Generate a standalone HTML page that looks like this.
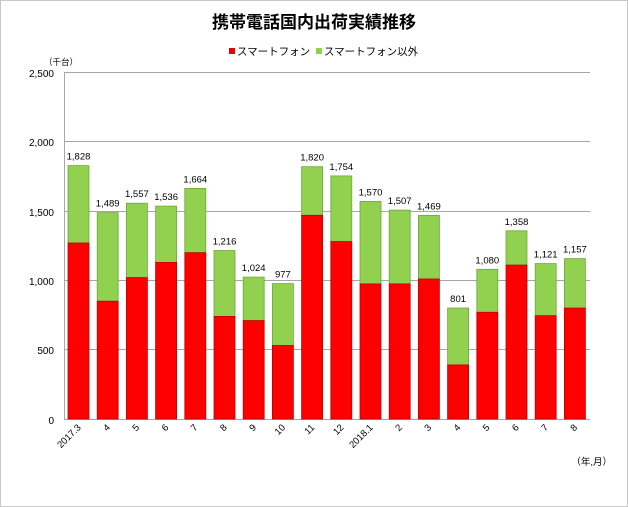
<!DOCTYPE html>
<html><head><meta charset="utf-8"><style>
html,body{margin:0;padding:0;background:#fff}
svg{display:block;font-family:"Liberation Sans","Noto Sans CJK JP",sans-serif}
</style></head><body>
<svg width="628" height="507" viewBox="0 0 628 507" xmlns="http://www.w3.org/2000/svg">
<rect x="0.5" y="0.5" width="627" height="506" fill="#fff" stroke="#c8c8c8"/>
<text x="314" y="28" text-anchor="middle" font-size="17" font-weight="bold" fill="#000">携帯電話国内出荷実績推移</text>
<rect x="229" y="48" width="6" height="6" fill="#e00"/>
<text x="237" y="55" font-size="10.5">スマートフォン</text>
<rect x="316" y="48" width="6" height="6" fill="#92d050"/>
<text x="324" y="55" font-size="10.5">スマートフォン以外</text>
<text x="44" y="65" font-size="8.5">（千台）</text>
<g stroke="#a6a6a6" stroke-width="1">
<line x1="64" y1="72.5" x2="590" y2="72.5"/>
<line x1="64" y1="141.5" x2="590" y2="141.5"/>
<line x1="64" y1="211.5" x2="590" y2="211.5"/>
<line x1="64" y1="280.5" x2="590" y2="280.5"/>
<line x1="64" y1="349.5" x2="590" y2="349.5"/>
<line x1="64" y1="419.5" x2="590" y2="419.5"/>
<line x1="64.5" y1="72" x2="64.5" y2="419"/>
</g>
<g font-size="10" text-anchor="end">
<text x="54" y="77">2,500</text>
<text x="54" y="146">2,000</text>
<text x="54" y="216">1,500</text>
<text x="54" y="285">1,000</text>
<text x="54" y="354">500</text>
<text x="54" y="424">0</text>
</g>
<g stroke-width="0.8">
<g fill="#92d050" stroke="#6fa83a">
<rect x="68" y="165.6" width="21" height="77.4"/>
<rect x="97.2" y="212.6" width="21" height="88.6"/>
<rect x="126.4" y="203.2" width="21" height="74.4"/>
<rect x="155.6" y="206.1" width="21" height="56.3"/>
<rect x="184.8" y="188.4" width="21" height="64.3"/>
<rect x="214" y="250.5" width="21" height="65.9"/>
<rect x="243.2" y="277.1" width="21" height="43.5"/>
<rect x="272.4" y="283.6" width="21" height="61.9"/>
<rect x="301.6" y="166.7" width="21" height="48.6"/>
<rect x="330.8" y="175.9" width="21" height="65.7"/>
<rect x="360" y="201.4" width="21" height="82.5"/>
<rect x="389.2" y="210.1" width="21" height="73.8"/>
<rect x="418.4" y="215.4" width="21" height="63.6"/>
<rect x="447.6" y="308.0" width="21" height="56.9"/>
<rect x="476.8" y="269.3" width="21" height="43.0"/>
<rect x="506" y="230.8" width="21" height="34.3"/>
<rect x="535.2" y="263.6" width="21" height="52.1"/>
<rect x="564.4" y="258.6" width="21" height="49.5"/>
</g>
<g fill="#ff0000" stroke="#c00000">
<rect x="68" y="243.0" width="21" height="176"/>
<rect x="97.2" y="301.2" width="21" height="117.8"/>
<rect x="126.4" y="277.6" width="21" height="141.4"/>
<rect x="155.6" y="262.4" width="21" height="156.6"/>
<rect x="184.8" y="252.7" width="21" height="166.3"/>
<rect x="214" y="316.4" width="21" height="102.6"/>
<rect x="243.2" y="320.6" width="21" height="98.4"/>
<rect x="272.4" y="345.5" width="21" height="73.5"/>
<rect x="301.6" y="215.3" width="21" height="203.7"/>
<rect x="330.8" y="241.6" width="21" height="177.4"/>
<rect x="360" y="283.9" width="21" height="135.1"/>
<rect x="389.2" y="283.9" width="21" height="135.1"/>
<rect x="418.4" y="279.0" width="21" height="140"/>
<rect x="447.6" y="364.9" width="21" height="54.1"/>
<rect x="476.8" y="312.3" width="21" height="106.7"/>
<rect x="506" y="265.1" width="21" height="153.9"/>
<rect x="535.2" y="315.7" width="21" height="103.3"/>
<rect x="564.4" y="308.1" width="21" height="110.9"/>
</g>
</g>
<g font-size="9.5" text-anchor="middle">
<text x="78.5" y="159.6">1,828</text>
<text x="107.7" y="206.6">1,489</text>
<text x="136.9" y="197.2">1,557</text>
<text x="166.1" y="200.1">1,536</text>
<text x="195.3" y="182.4">1,664</text>
<text x="224.5" y="244.5">1,216</text>
<text x="253.7" y="271.1">1,024</text>
<text x="282.9" y="277.6">977</text>
<text x="312.1" y="160.7">1,820</text>
<text x="341.3" y="169.9">1,754</text>
<text x="370.5" y="195.4">1,570</text>
<text x="399.7" y="204.1">1,507</text>
<text x="428.9" y="209.4">1,469</text>
<text x="458.1" y="302.0">801</text>
<text x="487.3" y="263.3">1,080</text>
<text x="516.5" y="224.8">1,358</text>
<text x="545.7" y="257.6">1,121</text>
<text x="574.9" y="252.6">1,157</text>
</g>
<g font-size="9.5" text-anchor="end">
<text transform="translate(81.5,428) rotate(-45)">2017.3</text>
<text transform="translate(110.7,428) rotate(-45)">4</text>
<text transform="translate(139.9,428) rotate(-45)">5</text>
<text transform="translate(169.1,428) rotate(-45)">6</text>
<text transform="translate(198.3,428) rotate(-45)">7</text>
<text transform="translate(227.5,428) rotate(-45)">8</text>
<text transform="translate(256.7,428) rotate(-45)">9</text>
<text transform="translate(285.9,428) rotate(-45)">10</text>
<text transform="translate(315.1,428) rotate(-45)">11</text>
<text transform="translate(344.3,428) rotate(-45)">12</text>
<text transform="translate(373.5,428) rotate(-45)">2018.1</text>
<text transform="translate(402.7,428) rotate(-45)">2</text>
<text transform="translate(431.9,428) rotate(-45)">3</text>
<text transform="translate(461.1,428) rotate(-45)">4</text>
<text transform="translate(490.3,428) rotate(-45)">5</text>
<text transform="translate(519.5,428) rotate(-45)">6</text>
<text transform="translate(548.7,428) rotate(-45)">7</text>
<text transform="translate(577.9,428) rotate(-45)">8</text>
</g>
<text x="612" y="465" font-size="9.5" text-anchor="end">（年,月）</text>
</svg>
</body></html>
